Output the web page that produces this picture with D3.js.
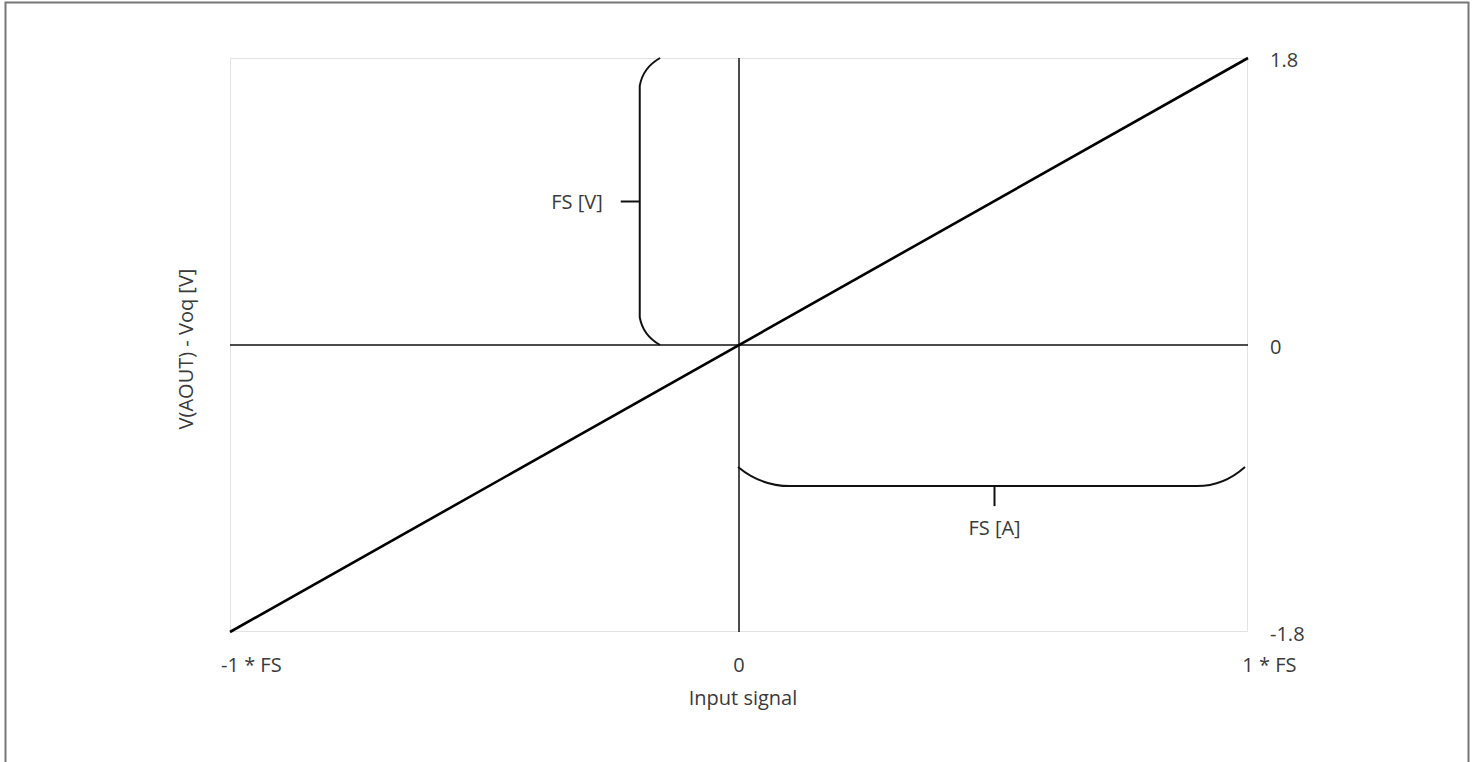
<!DOCTYPE html>
<html><head><meta charset="utf-8">
<script src="https://cdn.jsdelivr.net/npm/d3@7"></script>
<style>
html,body{margin:0;padding:0;background:#fff;overflow:hidden}
text{font-family:"Open Sans",sans-serif;font-size:20px;fill:#3a3a3a}
</style></head>
<body>
<svg id="c" width="1474" height="762"></svg>
<script>
// ---- data ----
const xDomain = [-1, 1];
const yDomain = [-1.8, 1.8];
const xTickValues = [-1, 0, 1];
const xTickNumbers = ["-1", "0", "1"];
const xTickSuffix = [" * FS", "", " * FS"];
const yTickValues = [1.8, 0, -1.8];
const yTickLabels = ["1.8", "0", "-1.8"];
const transferX = [-1, 1];
const transferY = [-1.8, 1.8];
// brace for FS [V]: x position, y start, y end, curve x end, curve height
const braceV = {x: -0.195, y0: 0, y1: 1.8, xTip: -0.155, yCurve: 0.175, tickY: 0.9, label: "FS [V]"};
// brace for FS [A]: y position, x start, x end, curve y end, curve width
const braceA = {y: -0.885, x0: 0, x1: 1.0, yTip: -0.765, xCurve: 0.1, tickX: 0.5, label: "FS [A]"};
const xTitle = "Input signal";
const yTitle = "V(AOUT) - Voq [V]";

// ---- layout ----
const L = 230, R = 1248, T = 58, B = 632;
const svg = d3.select("#c");
const x = d3.scaleLinear().domain(xDomain).range([L, R]);
const y = d3.scaleLinear().domain(yDomain).range([B, T]);

// outer frame
svg.append("path").attr("d", `M5.5,770 V2.5 H1468.5 V770`)
  .attr("fill", "none").attr("stroke", "#777").attr("stroke-width", 2);

// plot border
svg.append("rect").attr("x", L + 0.5).attr("y", T + 0.5)
  .attr("width", R - L - 1).attr("height", B - T - 1)
  .attr("fill", "none").attr("stroke", "#e3e3e3").attr("stroke-width", 1);

// axes through zero
svg.append("line").attr("x1", x(xDomain[0])).attr("x2", x(xDomain[1]))
  .attr("y1", y(0)).attr("y2", y(0)).attr("stroke", "#111").attr("stroke-width", 1.5);
svg.append("line").attr("x1", x(0)).attr("x2", x(0))
  .attr("y1", y(yDomain[0])).attr("y2", y(yDomain[1])).attr("stroke", "#111").attr("stroke-width", 1.5);

// transfer line
const line = d3.line().x(d => x(d[0])).y(d => y(d[1]));
svg.append("path").datum(d3.zip(transferX, transferY)).attr("d", line)
  .attr("fill", "none").attr("stroke", "#000").attr("stroke-width", 2.6);

// brace V (vertical)
{
  const p = d3.path();
  const bx = x(braceV.x), tx = x(braceV.xTip);
  const yTop = y(braceV.y1), yBot = y(braceV.y0);
  const ct = y(braceV.y1 - braceV.yCurve), cb = y(braceV.y0 + braceV.yCurve);
  p.moveTo(tx, yTop);
  p.quadraticCurveTo(bx + (tx - bx) * 0.15, yTop + (ct - yTop) * 0.35, bx, ct);
  p.lineTo(bx, cb);
  p.quadraticCurveTo(bx + (tx - bx) * 0.15, yBot - (yBot - cb) * 0.35, tx, yBot);
  svg.append("path").attr("d", p.toString()).attr("fill", "none")
    .attr("stroke", "#111").attr("stroke-width", 2);
  svg.append("line").attr("x1", bx - 19).attr("x2", bx)
    .attr("y1", y(braceV.tickY)).attr("y2", y(braceV.tickY))
    .attr("stroke", "#111").attr("stroke-width", 2);
  svg.append("text").attr("x", bx - 37).attr("y", y(braceV.tickY))
    .attr("text-anchor", "end").attr("dominant-baseline", "central").text(braceV.label);
}

// brace A (horizontal)
{
  const p = d3.path();
  const by = y(braceA.y), ty = y(braceA.yTip);
  const xL = x(braceA.x0) - 1, xR = x(braceA.x1) - 3;
  const cl = x(braceA.x0 + braceA.xCurve), cr = x(braceA.x1 - braceA.xCurve);
  p.moveTo(xL, ty);
  p.quadraticCurveTo(xL + (cl - xL) * 0.45, by, cl, by);
  p.lineTo(cr, by);
  p.quadraticCurveTo(xR - (xR - cr) * 0.45, by, xR, ty);
  svg.append("path").attr("d", p.toString()).attr("fill", "none")
    .attr("stroke", "#111").attr("stroke-width", 2);
  svg.append("line").attr("x1", x(braceA.tickX) + 1).attr("x2", x(braceA.tickX) + 1)
    .attr("y1", by).attr("y2", by + 20).attr("stroke", "#111").attr("stroke-width", 2);
  svg.append("text").attr("x", x(braceA.tickX) + 1).attr("y", by + 41)
    .attr("text-anchor", "middle").attr("dominant-baseline", "central").text(braceA.label);
}

// x tick labels: number centered on tick, suffix trailing
xTickValues.forEach((v, i) => {
  const t = svg.append("text").attr("y", 672).attr("text-anchor", "start");
  const num = t.append("tspan").text(xTickNumbers[i]);
  t.append("tspan").text(xTickSuffix[i]);
  const w = num.node().getComputedTextLength();
  t.attr("x", x(v) - w / 2);
});

// right y tick labels
yTickValues.forEach((v, i) => {
  svg.append("text").attr("x", R + 22).attr("y", y(v) + 1)
    .attr("text-anchor", "start").attr("dominant-baseline", "central").text(yTickLabels[i]);
});

// titles
svg.append("text").attr("x", 743).attr("y", 705).attr("text-anchor", "middle").text(xTitle);
svg.append("text").attr("transform", `translate(193,${(T + B) / 2 + 4}) rotate(-90)`)
  .attr("text-anchor", "middle").text(yTitle);
</script>
</body></html>
